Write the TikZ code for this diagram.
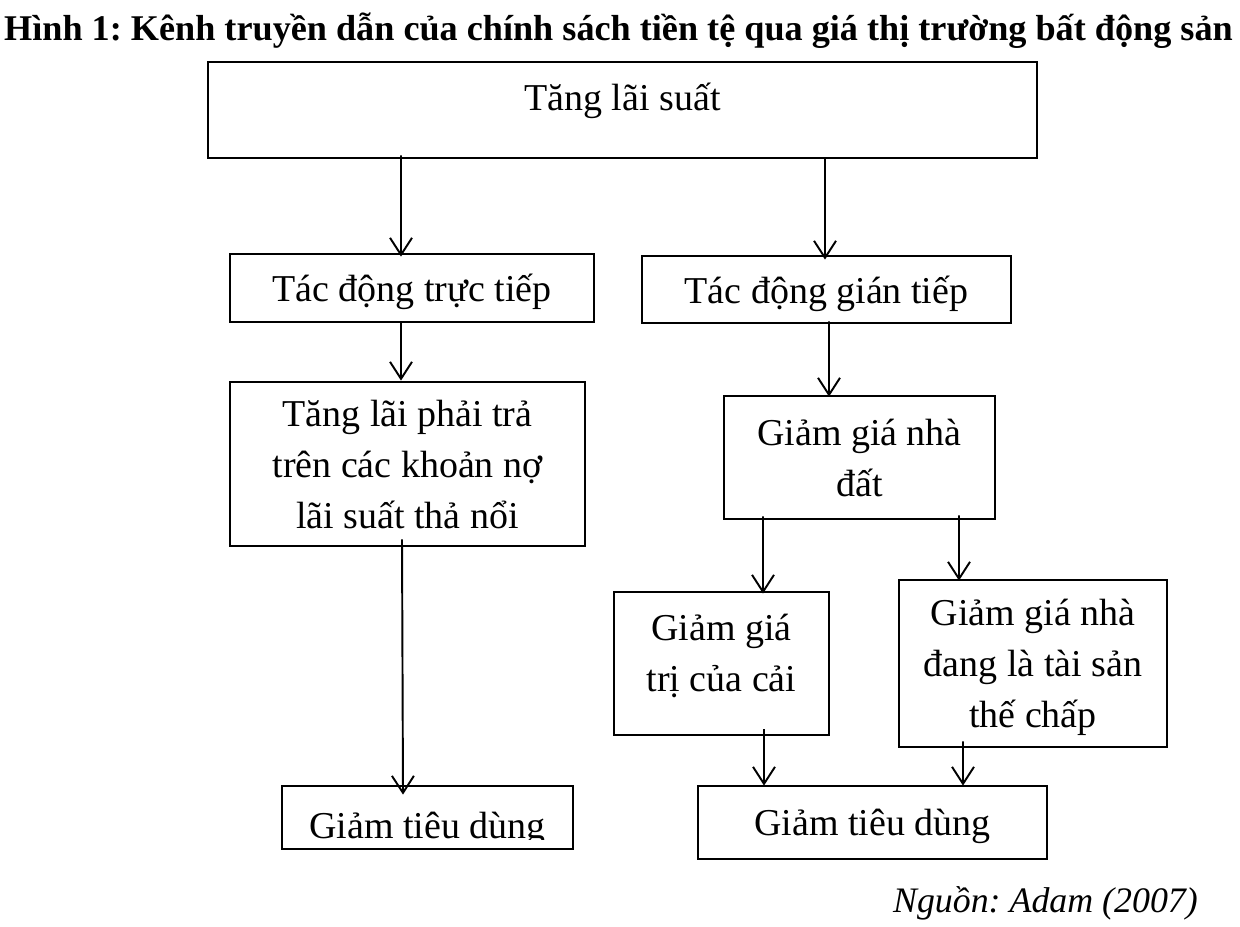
\documentclass[tikz,border=0pt]{standalone}
\usepackage{fontspec}
\setmainfont{Liberation Serif}
\frenchspacing
\usetikzlibrary{arrows.meta,calc}

\begin{document}
\begin{tikzpicture}
                \tikzset{box/.style={draw, line width=1.6pt, inner sep=0pt, align=center, text depth=0pt,
                font=\fontsize{21.6}{29}\selectfont},
                arr/.style={line width=1.1pt, -{Straight Barb[length=3.4mm, width=4.4mm]}}}

                \useasboundingbox (0,0) rectangle (24.8,-18.52);

                \node[anchor=base, font=\bfseries\fontsize{20.6}{24}\selectfont] (title) at (12.37,-0.8) {Hình 1: Kênh truyền dẫn của chính sách tiền tệ qua giá thị trường bất động sản};

                \node[box, minimum width=16.58cm, minimum height=1.92cm, text height=.6cm, text depth=.6cm] (lai) at (12.45,-2.20) {Tăng lãi suất};

                \node[box, minimum width=7.28cm, minimum height=1.36cm] (tructiep) at (8.24,-5.76) {Tác động trực tiếp};

                \node[box, minimum width=7.38cm, minimum height=1.34cm] (giantiep) at (16.53,-5.79) {Tác động gián tiếp};

                \node[box, minimum width=7.10cm, minimum height=3.28cm, text depth=-.12cm] (laiphaitra) at (8.15,-9.28) {Tăng lãi phải trả\\trên các khoản nợ\\lãi suất thả nổi};

                \node[box, minimum width=5.42cm, minimum height=2.46cm] (nhadat) at (17.19,-9.15) {Giảm giá nhà\\đất};

                \node[box, minimum width=4.30cm, minimum height=2.86cm, text depth=.42cm] (cuacai) at (14.43,-13.27) {Giảm giá\\trị của cải};

                \node[box, minimum width=5.36cm, minimum height=3.34cm, text depth=-.06cm] (thechap) at (20.66,-13.27) {Giảm giá nhà\\đang là tài sản\\thế chấp};

                \node[box, minimum width=5.82cm, minimum height=1.26cm] (tdleft) at (8.55,-16.35) {};

                \begin{scope}
                \clip ($(tdleft.south west)+(0,.22)$) rectangle (tdleft.north east);
                \node[anchor=base, font=\fontsize{21.6}{29}\selectfont] (tdlefttext) at ($(tdleft.south)+(0,.24)$) {Giảm tiêu dùng};
                \end{scope}

                \node[box, minimum width=6.98cm, minimum height=1.46cm] (tdright) at (17.45,-16.45) {Giảm tiêu dùng};

                \node[anchor=base east, font=\itshape\fontsize{20.4}{24}\selectfont] (nguon) at (24.08,-18.24) {Nguồn: Adam (2007)};

                \draw[arr] ($(lai.south)+(-4.43,.08)$) -- ($(tructiep.north)+(-.22,-.08)$);

                \draw[arr] ($(lai.south)+(4.05,.04)$) -- ($(giantiep.north)+(-.03,-.10)$);

                \draw[arr] ($(tructiep.south)+(-.22,.04)$) -- ($(laiphaitra.north)+(-.13,0)$);

                \draw[arr] ($(giantiep.south)+(.05,.06)$) -- ($(nhadat.north)+(-.61,-.04)$);

                \draw[arr] ($(nhadat.south)+(-1.93,.08)$) -- ($(cuacai.north)+(.83,-.06)$);

                \draw[arr] ($(nhadat.south)+(1.99,.10)$) -- ($(thechap.north)+(-1.48,-.04)$);

                \draw[arr] ($(laiphaitra.south)+(-.11,.16)$) -- ($(tdleft.north)+(-.49,-.20)$);

                \draw[arr] ($(cuacai.south)+(.85,.14)$) -- ($(tdright.north)+(-2.17,-.02)$);

                \draw[arr] ($(thechap.south)+(-1.40,.14)$) -- ($(tdright.north)+(1.81,-.02)$);
\end{tikzpicture}
\end{document}
